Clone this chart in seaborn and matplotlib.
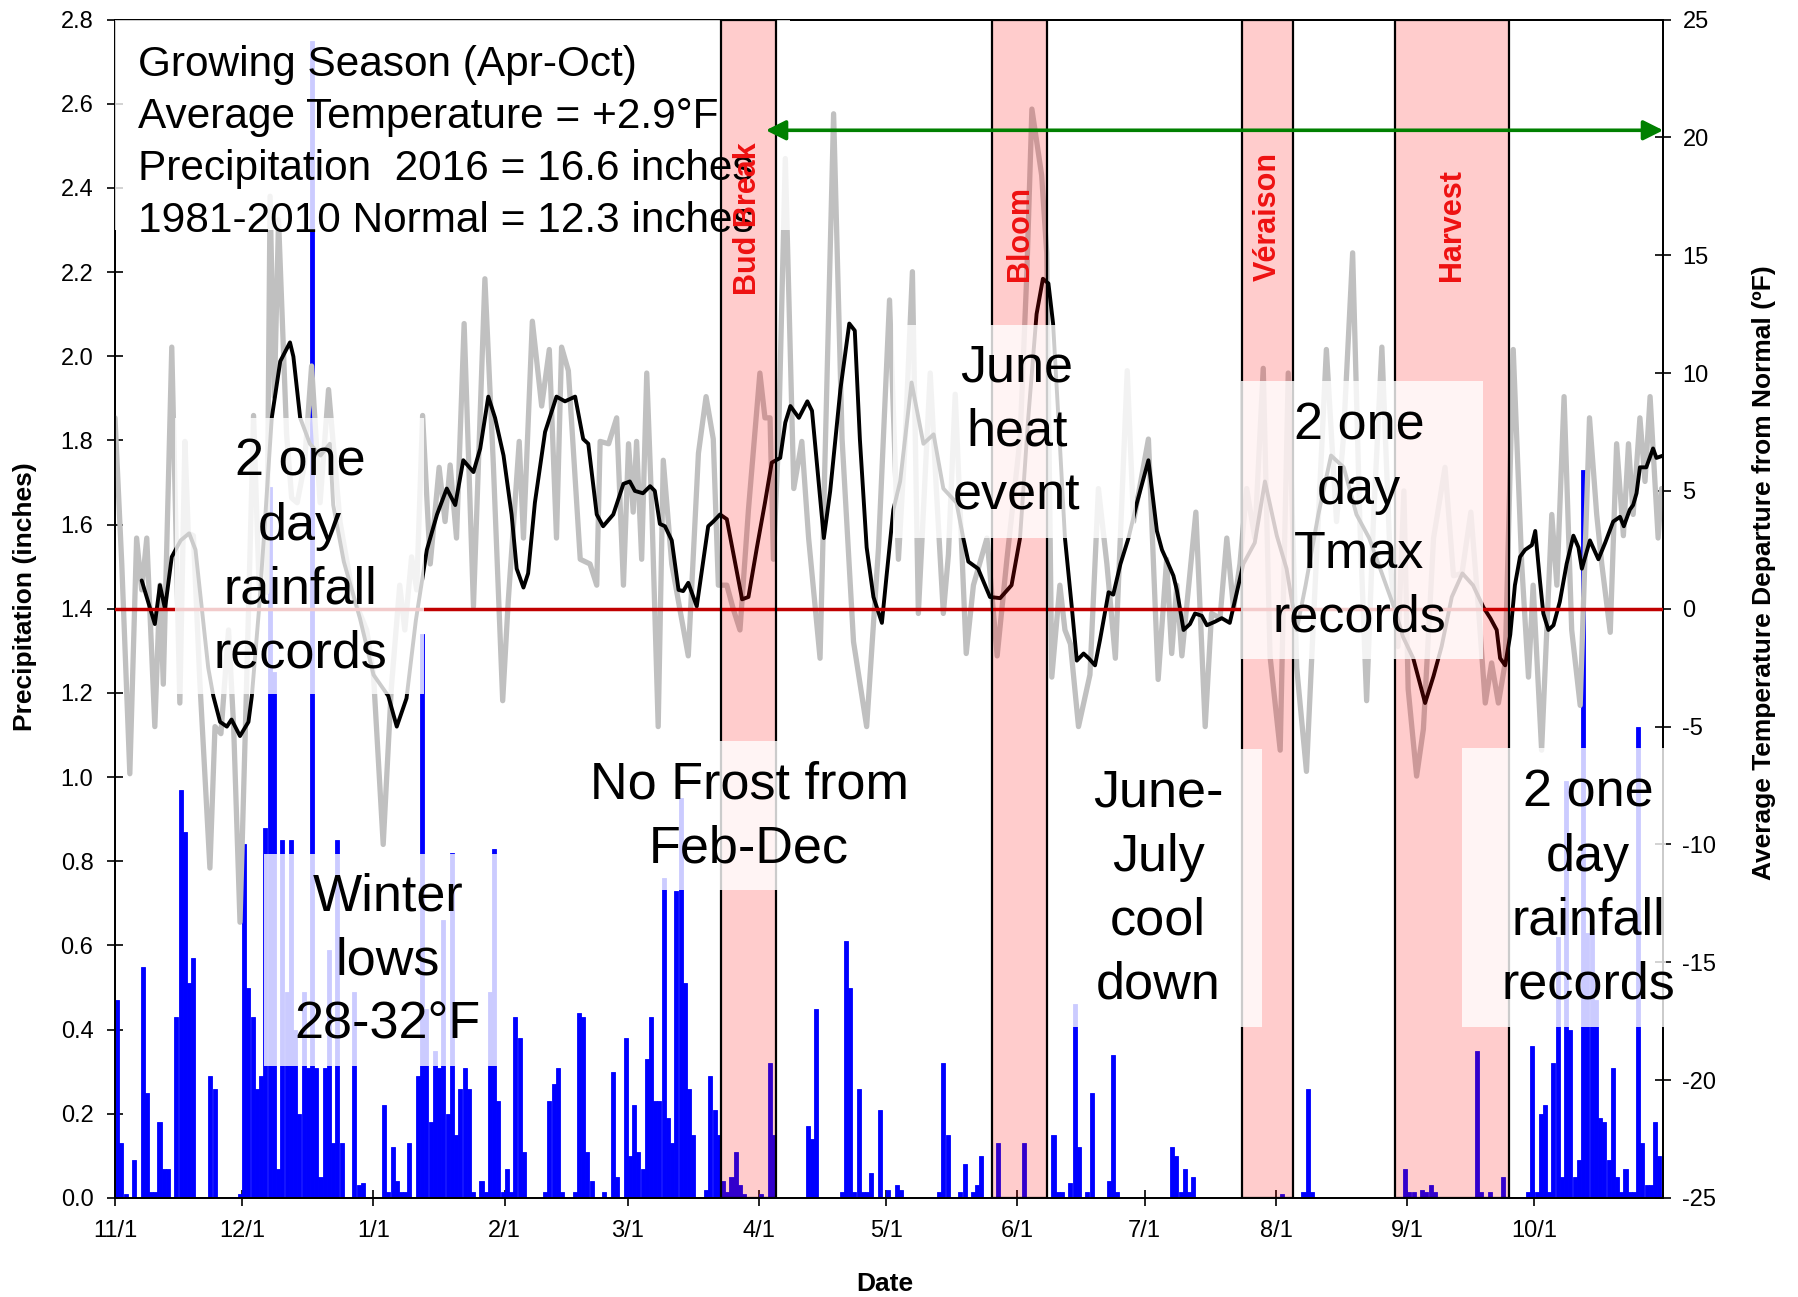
import numpy as np
import pandas as pd
import matplotlib
matplotlib.use("Agg")
import matplotlib.pyplot as plt
import seaborn as sns
from matplotlib.patches import Rectangle

sns.set_theme(style="white")
plt.rcParams["font.family"] = ["Liberation Sans", "DejaVu Sans"]
plt.rcParams["text.color"] = "black"
plt.rcParams["axes.labelcolor"] = "black"
plt.rcParams["xtick.color"] = "black"
plt.rcParams["ytick.color"] = "black"
plt.rcParams["axes.unicode_minus"] = False

SEASON_START = "2015-11-01"
SEASON_END = "2016-10-31"

# daily precipitation (inches), one list per month
PRECIP_NOV = [.47, .13, .01, 0, .09, 0, .55, .25, .015, .015, .18, .07, .07, 0, .43,
              .97, .87, .51, .57, 0, 0, 0, .29, .26, 0, 0, 0, 0, 0, .01]
PRECIP_DEC = [.84, .50, .43, .26, .29, .88, 1.69, 1.25, .07, .85, .49, .85, .40, .20, .49,
              .31, 2.75, .31, .05, .31, .59, .13, .85, .13, 0, 0, .49, .03, .035, 0, 0]
PRECIP_JAN = [0, 0, .22, .015, .12, .04, .015, .015, .13, 0, .29, 1.34, .45, .18, .35,
              .31, .66, .20, .82, .15, .26, .31, .26, .015, 0, .04, .015, .49, .83, .23, .015]
PRECIP_FEB = [.07, .015, .43, .38, .11, 0, 0, 0, 0, .015, .23, .27, .31, .015, 0,
              0, .015, .44, .43, .11, .04, 0, 0, .015, 0, .30, .05, 0, .38]
PRECIP_MAR = [.10, .22, .11, .07, .33, .43, .23, .23, .76, .19, .13, .73, .95, .51, .26,
              .15, 0, 0, .02, .29, .21, .15, .04, .015, .05, .11, .03, .01, 0, 0, 0]
PRECIP_APR = [.01, 0, .32, .15, 0, 0, 0, 0, 0, 0, 0, .17, .14, .45, 0,
              0, 0, 0, 0, .015, .61, .50, .015, .26, .015, .015, .06, 0, .21, 0]
PRECIP_MAY = [.02, 0, .03, .02, 0, 0, 0, 0, 0, 0, 0, 0, .015, .32, .15,
              0, 0, .015, .08, 0, .015, .03, .10, 0, 0, 0, .13, 0, 0, 0, 0]
PRECIP_JUN = [0, .13, 0, 0, 0, 0, 0, 0, .15, .015, .015, 0, .035, .46, .12,
              0, .015, .25, 0, 0, 0, .04, .34, .015, 0, 0, 0, 0, 0, 0]
PRECIP_JUL = [0, 0, 0, 0, 0, 0, .12, .10, .015, .07, .015, .05, 0, 0, 0,
              0, 0, 0, 0, 0, 0, 0, 0, 0, 0, 0, 0, 0, 0, 0, 0]
PRECIP_AUG = [0, .01, 0, 0, 0, 0, .015, .26, .015, 0, 0, 0, 0, 0, 0,
              0, 0, 0, 0, 0, 0, 0, 0, 0, 0, 0, 0, 0, 0, 0, .07]
PRECIP_SEP = [.015, .015, 0, .02, .015, .03, .015, 0, 0, 0, 0, 0, 0, 0, 0,
              0, .35, .015, 0, .015, 0, 0, .05, 0, 0, 0, 0, 0, .015, .36]
PRECIP_OCT = [.015, .20, .22, .015, .32, .62, .05, .99, .40, .05, .09, 1.73, .63, .64, .47,
              .19, .18, .09, .31, .05, .015, .07, .015, .015, 1.12, .13, .03, .03, .18, .10, .41]

# daily temperature departure from normal (°F), day offset from 11/1
TEMP_DAYS = [0, 1.6, 3.5, 5.1, 6.3, 7.5, 9.4, 10.6, 11.4, 13.4, 15.3, 16.5, 17.3, 18.5, 20.0,
             22.4, 23.6, 25.0, 26.8, 28.0, 29.5, 31.0, 32.7, 34.0, 35.8, 36.6, 37.6, 38.6, 40.5, 41.7,
             43.0, 44.7, 46.4, 48.4, 50.4, 53.1, 56.2, 59.4, 61.0, 63.3, 65.2, 67.2, 68.4, 70.0, 71.2,
             72.6, 74.4, 76.5, 77.9, 79.1, 80.6, 82.4, 84.6, 87.3, 89.3, 91.5, 92.8, 95.4, 96.4, 98.5,
             100.7, 102.5, 104.2, 105.4, 107.0, 109.8, 112.1, 113.7, 114.5, 116.5, 118.4, 120.0, 121.2, 122.3, 123.1,
             124.3, 125.5, 126.7, 128.2, 129.4, 131.4, 133.0, 135.3, 137.7, 139.5, 141.2, 142.4, 144.4, 145.9, 147.5,
             149.5, 152.2, 153.4, 154.6, 155.4, 156.6, 158.2, 160.2, 162.1, 163.7, 166.4, 169.6, 171.6, 174.3, 177.4,
             180.2, 182.8, 184.9, 186.4, 188.2, 189.6, 192.4, 193.9, 195.5, 196.7, 198.3, 200.9, 202.6, 205.8, 208.2,
             210.5, 213.6, 215.2, 216.4, 218.7, 219.9, 221.1, 223.0, 224.2, 225.5, 227.4, 230.1, 232.1, 234.1, 236.1,
             238.9, 240.4, 243.9, 246.2, 248.2, 249.4, 250.6, 251.8, 255.1, 257.3, 258.8, 260.8, 262.4, 264.0, 265.5,
             267.1, 269.0, 271.0, 272.6, 275.0, 276.9, 278.9, 281.2, 282.8, 285.9, 288.3, 289.9, 292.1, 293.8, 295.4,
             297.0, 299.0, 301.0, 302.8, 304.2, 305.2, 307.2, 308.8, 311.2, 313.9, 315.9, 317.9, 320.0, 321.8, 323.4,
             324.9, 326.5, 328.1, 330.0, 332.0, 333.6, 334.7, 336.7, 339.1, 340.3, 342.0, 343.8, 345.8, 348.0, 349.7,
             350.9, 352.9, 354.4, 356.0, 357.2, 358.3, 359.9, 361.1, 362.3, 364.2, 365.0]
TEMP_DEP = [8.1, 1.9, -7.0, 3.0, 0.8, 3.0, -5.0, 1.0, -3.2, 11.1, -4.0, 7.1, 3.2, 3.1, -3.0,
            -11.0, -5.0, -5.3, -0.9, -5.0, -13.3, -3.6, 8.2, 1.0, 0.7, 17.5, 9.0, 16.5, 7.4, 4.7,
            4.5, 6.1, 10.3, 4.5, 9.3, 3.7, 0.5, -0.9, -2.8, -10.0, -3.4, 1.0, -0.9, 2.2, 0.8,
            8.2, 1.9, 6.0, 3.7, 6.1, 3.0, 12.1, 0.1, 14.0, 6.1, -3.9, 0.3, 7.1, 3.0, 12.2,
            8.6, 11.0, 3.0, 11.1, 10.1, 2.1, 1.9, 1.0, 7.1, 7.0, 8.1, 1.0, 7.0, 4.1, 7.1,
            2.1, 10.0, 4.2, -5.0, 6.3, 1.9, 0.3, -2.0, 6.6, 9.0, 7.2, 1.0, 1.0, 0.0, -0.9,
            4.2, 10.0, 8.1, 8.1, 2.1, 7.2, 19.1, 5.1, 7.1, 3.0, -2.1, 21.0, 7.2, -1.4, -5.0,
            2.6, 13.1, 2.1, 6.8, 14.3, -0.2, 10.0, 4.9, -0.2, 2.3, 9.1, -1.9, 1.0, 3.0, -2.0,
            2.1, 7.2, 14.2, 21.2, 18.4, 15.1, -2.9, 1.0, -0.9, -1.5, -5.0, -2.8, 5.1, 1.9, -2.1,
            10.1, 3.7, 7.2, -3.0, 2.1, -1.9, 1.0, -2.0, 4.1, -5.0, -0.2, -0.4, 3.0, 0.0, 1.9,
            5.1, 3.0, 10.2, -2.0, -6.0, 10.0, -2.5, -6.9, -0.7, 11.0, 3.7, 7.2, 15.1, 3.7, -3.9,
            3.7, 11.1, 1.9, -1.6, 5.0, -3.4, -7.1, -5.1, 3.0, 6.0, 1.4, 1.5, 4.1, 0.0, -4.0,
            -2.3, -4.0, -2.3, 11.0, 1.9, -2.9, 1.0, -6.0, 4.0, 1.0, 9.0, -0.9, -4.1, 8.1, 4.0,
            1.9, -1.0, 7.0, 3.1, 7.0, 4.0, 8.1, 5.4, 9.0, 3.0, 5.1]

# smoothed temperature departure (°F)
SMOOTH_DAYS = [6.3, 9.4, 10.6, 11.8, 13.4, 15.5, 17.5, 19.0, 20.5, 22.0, 23.2, 24.8, 26.4, 27.5, 29.5,
               31.5, 32.3, 34.0, 35.5, 37.0, 39.0, 41.3, 42.1, 43.7, 46.0, 48.5, 50.7, 51.5, 54.0, 57.8,
               61.0, 64.5, 66.5, 68.8, 71.0, 73.6, 76.0, 78.3, 80.3, 82.2, 84.6, 86.2, 88.1, 89.7, 91.7,
               93.6, 94.8, 96.4, 97.5, 99.1, 101.5, 104.2, 106.2, 108.6, 110.5, 111.7, 113.7, 115.2, 117.6, 120.0,
               121.5, 122.7, 124.6, 126.3, 127.4, 128.6, 129.8, 131.4, 133.0, 134.1, 135.3, 137.3, 140.0, 141.2, 142.8,
               144.4, 146.4, 148.0, 149.5, 151.5, 153.4, 155.0, 157.0, 158.2, 159.4, 161.4, 163.4, 164.5, 165.7, 167.3,
               168.8, 171.2, 173.3, 174.6, 175.8, 177.4, 179.0, 181.0, 182.1, 183.7, 185.3, 188.0, 190.8, 193.2, 195.5,
               198.6, 200.2, 201.4, 203.7, 206.5, 208.9, 211.6, 213.6, 215.5, 217.5, 219.0, 220.3, 221.4, 223.0, 224.2,
               225.8, 227.0, 228.6, 229.8, 231.3, 232.5, 234.5, 235.6, 237.3, 239.2, 241.2, 243.9, 245.9, 247.1, 248.6,
               249.8, 250.6, 252.2, 253.7, 254.9, 256.5, 257.7, 259.6, 261.2, 263.1, 266.3, 269.0, 271.4, 274.2, 276.5,
               278.9, 281.0, 284.0, 287.0, 290.0, 293.0, 296.0, 299.0, 302.0, 304.0, 306.4, 309.2, 311.2, 313.1, 315.5,
               318.0, 320.5, 323.0, 324.6, 326.1, 326.9, 328.1, 329.3, 330.4, 331.6, 332.8, 334.4, 335.2, 336.3, 337.1,
               338.3, 339.5, 341.0, 342.6, 344.2, 345.4, 346.2, 347.0, 348.1, 350.1, 351.7, 353.6, 355.2, 356.1, 357.5,
               358.3, 359.1, 359.9, 361.4, 363.0, 363.8, 365.4]
SMOOTH_DEP = [1.2, -0.65, 1.0, 0.0, 2.2, 2.9, 3.2, 2.5, 0.0, -2.5, -3.7, -4.8, -5.0, -4.7, -5.4,
              -4.8, -3.7, 0.0, 4.0, 8.1, 10.5, 11.3, 10.7, 8.1, 7.0, 6.5, 7.0, 4.4, 2.0, -0.4,
              -2.8, -3.7, -5.0, -3.8, -0.5, 2.5, 4.0, 5.1, 4.4, 6.3, 5.8, 6.8, 9.0, 8.1, 6.5,
              4.0, 1.7, 0.9, 1.5, 4.5, 7.5, 9.0, 8.8, 9.0, 7.2, 7.0, 4.0, 3.5, 4.0, 5.3,
              5.4, 5.0, 4.9, 5.2, 5.0, 3.6, 3.5, 2.9, 0.8, 0.75, 1.1, 0.1, 3.5, 3.7, 4.0,
              3.8, 1.9, 0.4, 0.5, 2.6, 4.5, 6.2, 6.4, 7.9, 8.6, 8.1, 8.8, 8.4, 6.1, 3.0,
              5.0, 9.3, 12.1, 11.8, 7.2, 2.6, 0.5, -0.6, 1.4, 4.2, 5.4, 9.6, 7.0, 7.4, 5.1,
              4.5, 3.0, 2.0, 1.7, 0.5, 0.45, 1.0, 3.0, 8.0, 12.5, 14.0, 13.8, 12.1, 7.0, 3.0,
              0.1, -2.2, -1.9, -2.1, -2.4, -1.3, 0.7, 0.6, 1.9, 3.0, 4.5, 6.3, 3.3, 2.5, 1.9,
              1.4, 0.8, -0.9, -0.65, -0.2, -0.3, -0.7, -0.55, -0.4, -0.6, 1.9, 2.8, 5.4, 3.1, 1.7,
              -0.9, 1.0, 4.0, 6.5, 6.0, 4.0, 3.0, 1.5, 0.0, -1.2, -2.1, -4.0, -2.85, -1.6, 0.5,
              1.5, 1.0, 0.05, -0.4, -0.9, -2.1, -2.4, -1.1, 1.0, 2.2, 2.5, 2.7, 3.3, 1.2, -0.2,
              -0.9, -0.7, 0.3, 1.9, 3.1, 2.6, 1.7, 2.2, 2.9, 2.1, 2.8, 3.7, 3.9, 3.5, 4.2,
              4.4, 4.9, 6.0, 6.0, 6.8, 6.4, 6.5]

STAGES = ["Bud Break", "Bloom", "Véraison", "Harvest"]
STAGE_START = ["2016-03-23", "2016-05-26", "2016-07-24", "2016-08-29"]
STAGE_END = ["2016-04-05", "2016-06-08", "2016-08-05", "2016-09-25"]

ARROW_START = "2016-04-02"
ARROW_END = "2016-10-31"
ARROW_LEVEL = 20.3

SUMMARY = ("Growing Season (Apr-Oct)\n"
           "Average Temperature = +2.9°F\n"
           "Precipitation  2016 = 16.6 inches\n"
           "1981-2010 Normal = 12.3 inches")

NOTES = ["2 one\nday\nrainfall\nrecords", "Winter\nlows\n28-32°F", "No Frost from\nFeb-Dec",
         "June\nheat\nevent", "June-\nJuly\ncool\ndown", "2 one\nday\nTmax\nrecords",
         "2 one\nday\nrainfall\nrecords"]

PRECIP = (PRECIP_NOV + PRECIP_DEC + PRECIP_JAN + PRECIP_FEB + PRECIP_MAR + PRECIP_APR
          + PRECIP_MAY + PRECIP_JUN + PRECIP_JUL + PRECIP_AUG + PRECIP_SEP + PRECIP_OCT)

t0 = pd.Timestamp(SEASON_START)
def day_of(s):
    return (pd.Timestamp(s) - t0).days

months = pd.date_range(SEASON_START, SEASON_END, freq="MS")
month_pos = [(m - t0).days for m in months]
month_lbl = [f"{m.month}/{m.day}" for m in months]

rain = pd.DataFrame({"x": np.arange(len(PRECIP)) + 0.5, "p": PRECIP})
rain = rain[rain["p"] > 0]   # dry days draw nothing

fig = plt.figure(figsize=(17.98, 12.97), dpi=100)
ax = fig.add_axes([0.06396, 0.07633, 0.86096, 0.90863])

# ── precipitation bars (left axis) ─────────────────────────────
sns.barplot(data=rain, x="x", y="p", native_scale=True, width=0.95, color="#0000ff",
            saturation=1, edgecolor="#0000ff", linewidth=0.6, errorbar=None, ax=ax)

# ── temperature (right axis) ───────────────────────────────────
ax2 = ax.twinx()
sns.lineplot(x=TEMP_DAYS, y=TEMP_DEP, ax=ax2, color="#c0c0c0", linewidth=3.8,
             estimator=None, sort=False, zorder=2, solid_joinstyle="round",
             solid_capstyle="round")
sns.lineplot(x=SMOOTH_DAYS, y=SMOOTH_DEP, ax=ax2, color="black", linewidth=2.8,
             estimator=None, sort=False, zorder=3, solid_joinstyle="round")
ax2.axhline(0, color="#c00000", linewidth=2.5, zorder=3.5)

# summary box (behind stage shading)
ax2.add_patch(Rectangle((0, 0.8214), 0.436, 0.1786, transform=ax2.transAxes,
                        facecolor="white", alpha=0.8, edgecolor="none", zorder=4))

label_y = [13.3, 13.9, 13.9, 13.9]
for name, s, e, ly in zip(STAGES, STAGE_START, STAGE_END, label_y):
    x0, x1 = day_of(s), day_of(e)
    ax2.axvspan(x0, x1, facecolor=(1, 0, 0, 0.2), edgecolor="black", linewidth=1.6, zorder=5)
    ax2.text((x0 + x1) / 2, ly, name, rotation=90, ha="center", va="bottom",
             color="#ee1111", fontsize=22, fontweight="bold", zorder=8)

ax2.annotate("", xy=(day_of(ARROW_END) + 0.4, ARROW_LEVEL),
             xytext=(day_of(ARROW_START) + 0.6, ARROW_LEVEL),
             arrowprops=dict(arrowstyle="<|-|>,head_length=0.6,head_width=0.3",
                             color="#008000", lw=2.6, shrinkA=0, shrinkB=0,
                             mutation_scale=20),
             zorder=7)

# annotation boxes: (x, y, w, h) and text centre, axes fractions
note_layout = [
    ((0.0388, 0.4277, 0.1608, 0.2342), (0.1195, 0.5431)),
    ((0.0963, 0.1120, 0.1518, 0.1799), (0.1761, 0.2011)),
    ((0.3004, 0.2613, 0.2196, 0.1265), (0.4096, 0.3233)),
    ((0.5026, 0.5600, 0.1563, 0.1808), (0.5827, 0.6500)),
    ((0.6066, 0.1451, 0.1344, 0.2359), (0.6738, 0.2622)),
    ((0.7274, 0.4574, 0.1563, 0.2359), (0.8036, 0.5736)),
    ((0.8702, 0.1451, 0.1320, 0.2367), (0.9516, 0.2622)),
]
for txt, (box, ctr) in zip(NOTES, note_layout):
    ax2.add_patch(Rectangle(box[:2], box[2], box[3], transform=ax2.transAxes,
                            facecolor="white", alpha=0.8, edgecolor="none", zorder=6,
                            clip_on=False))
    ax2.text(ctr[0], ctr[1], txt, transform=ax2.transAxes, ha="center", va="center",
             multialignment="center", fontsize=37.5, linespacing=1.39, zorder=7,
             color="black")

ax2.text(0.0146, 0.9784, SUMMARY, transform=ax2.transAxes, ha="left", va="top",
         fontsize=30.5, linespacing=1.39, zorder=7, color="black")

# ── axes styling ───────────────────────────────────────────────
ax.set_xlim(0, 365.35)
ax.set_ylim(0, 2.8)
yt = np.round(np.arange(0, 2.81, 0.2), 1)
ax.set_yticks(yt)
ax.set_yticklabels([f"{v:.1f}" for v in yt])
ax.set_xticks(month_pos)
ax.set_xticklabels(month_lbl)
ax.set_xlabel("")
ax.set_ylabel("")
ax2.set_ylim(-25, 25)
ax2.set_yticks(range(-25, 26, 5))
ax2.set_yticklabels([str(v) for v in range(-25, 26, 5)])
ax2.set_ylabel("")
ax2.set_xlim(0, 365.35)

for a in (ax, ax2):
    for sp in a.spines.values():
        sp.set_color("black")
        sp.set_linewidth(1.3)
ax.tick_params(axis="x", direction="inout", length=11, width=1.2, labelsize=17,
               bottom=True, pad=10, colors="black")
ax.tick_params(axis="y", direction="inout", length=11, width=1.2, labelsize=17,
               left=True, pad=10, colors="black")
ax2.tick_params(axis="y", direction="inout", length=11, width=1.2, labelsize=17,
                right=True, pad=8.5, colors="black")

ax.text(-0.0581, 0.51, "Precipitation (inches)", transform=ax.transAxes, rotation=90,
        ha="center", va="center", fontsize=19, fontweight="bold", color="black")
ax2.text(1.065, 0.531, "Average Temperature Departure from Normal (ºF)",
         transform=ax2.transAxes, rotation=90, ha="center", va="center",
         fontsize=19, fontweight="bold", color="black")
ax.text(0.4976, -0.0732, "Date", transform=ax.transAxes, ha="center", va="center",
        fontsize=19, fontweight="bold", color="black")

fig.savefig("out.png", dpi=100)
